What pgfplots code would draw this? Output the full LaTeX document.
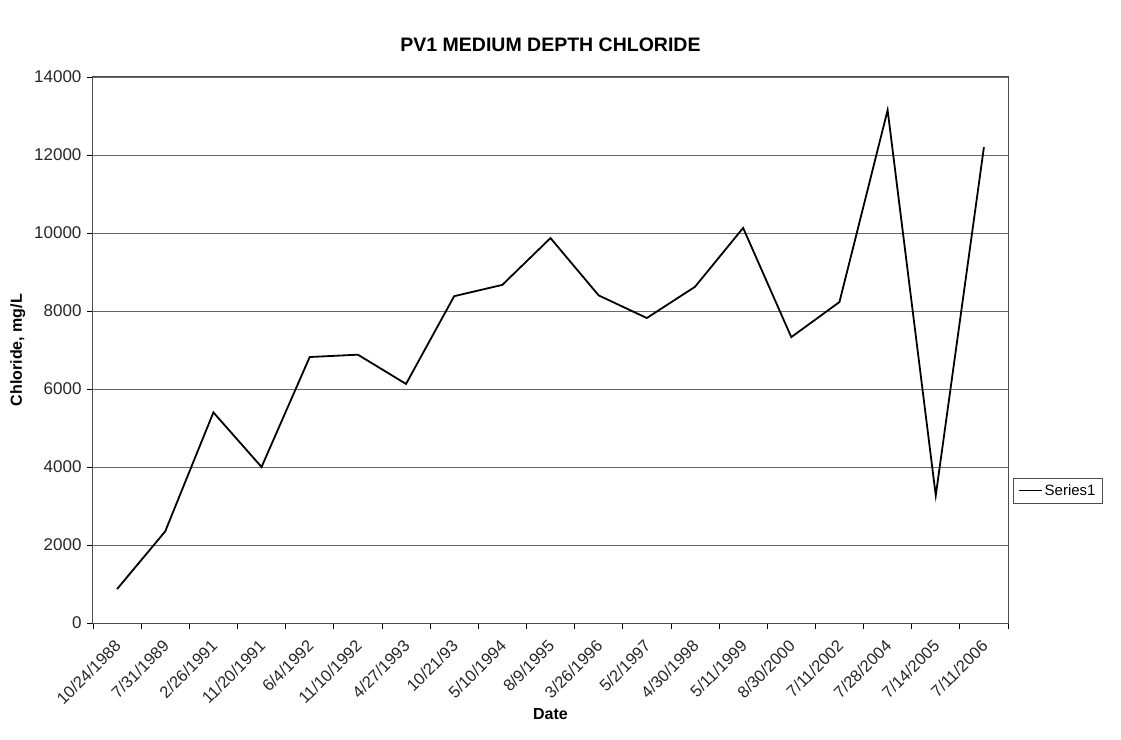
\documentclass[border=0pt]{standalone}
\usepackage{fontspec}
\setmainfont{Liberation Sans}
\usepackage{pgfplots}
\pgfplotsset{compat=1.18}
\begin{document}
\begin{tikzpicture}[x=1pt,y=1pt]
\path[use as bounding box] (-93,-116) rectangle (1028,623);
\begin{axis}[
 at={(0,0)}, anchor=south west,
 scale only axis, width=915pt, height=546pt,
 xmin=-0.5, xmax=18.5, ymin=0, ymax=14000,
 xtick pos=bottom, ytick pos=left,
 xtick={0,...,18},
 xticklabels={10/24/1988,7/31/1989,2/26/1991,11/20/1991,6/4/1992,11/10/1992,4/27/1993,10/21/93,5/10/1994,8/9/1995,3/26/1996,5/2/1997,4/30/1998,5/11/1999,8/30/2000,7/11/2002,7/28/2004,7/14/2005,7/11/2006},
 major x tick style={draw=none},
 minor xtick={-0.5,0.5,...,18.5},
 minor x tick style={black, line width=0.8pt},
 minor tick length=6pt,
 ytick={0,2000,...,14000},
 tick align=outside,
 major tick length=6pt,
 ytick style={black, line width=0.8pt},
 scaled y ticks=false,
 /pgf/number format/1000 sep={},
 /pgf/number format/assume math mode=true,
 yticklabel style={font=\fontsize{17}{19}\selectfont, text=black!85, xshift=-2pt},
 xticklabel style={font=\fontsize{16.5}{19}\selectfont, text=black!85, rotate=45, anchor=north east, xshift=-6pt, yshift=-1pt},
 ymajorgrids,
 grid style={black!60, line width=0.9pt},
 axis line style={black!70, line width=1pt},
 title={\bfseries PV1 MEDIUM DEPTH CHLORIDE},
 title style={font=\fontsize{19.5}{22}\selectfont\bfseries, at={(0.5,1)}, anchor=south, yshift=16pt},
 xlabel={\bfseries Date},
 ylabel={\bfseries Chloride, mg/L},
 label style={font=\fontsize{16}{18}\selectfont\bfseries},
 ylabel style={yshift=2pt},
 xlabel style={yshift=6pt},
 legend style={at={(1.006,0.242)}, anchor=west, draw=black!70, font=\fontsize{15}{17}\selectfont, inner sep=4pt, inner xsep=5pt, legend cell align=left},
 legend image code/.code={\draw[#1, line width=1.2pt] (0cm,0cm) -- (0.8cm,0cm);},
]
\addplot[black, line width=1.8pt] coordinates {
(0,870) (1,2350) (2,5400) (3,4000) (4,6820) (5,6880) (6,6130) (7,8380) (8,8670) (9,9870) (10,8400) (11,7820) (12,8620) (13,10130) (14,7330) (15,8230) (16,13150) (17,3270) (18,12200)
};
\addlegendentry{Series1}
\end{axis}
\end{tikzpicture}
\end{document}
